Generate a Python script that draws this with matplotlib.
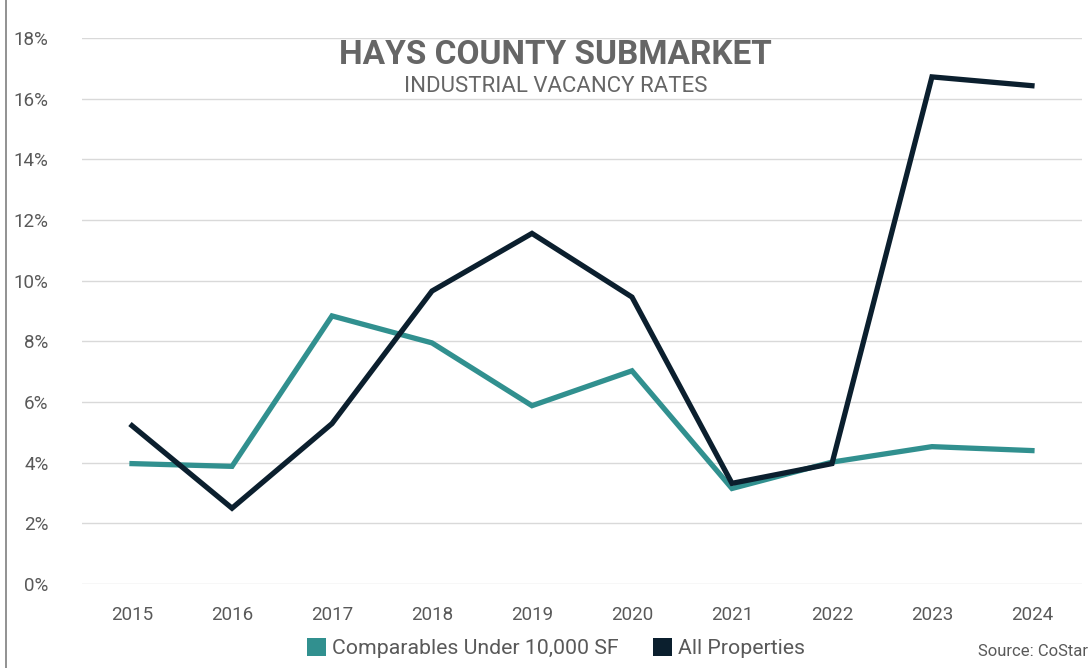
import matplotlib.pyplot as plt
from matplotlib.ticker import FuncFormatter
from matplotlib.lines import Line2D
from matplotlib.patches import Patch

# === DATA ===
years = [2015, 2016, 2017, 2018, 2019, 2020, 2021, 2022, 2023, 2024]
comparables = [3.97, 3.88, 8.84, 7.95, 5.88, 7.03, 3.15, 4.02, 4.53, 4.40]
all_props = [5.22, 2.50, 5.29, 9.66, 11.56, 9.46, 3.32, 3.97, 16.72, 16.43]

TEAL = "#31908f"
NAVY = "#0b1f2e"
GRAY = "#595959"
COND = ["Liberation Sans Narrow", "Roboto", "DejaVu Sans"]

fig = plt.figure(figsize=(10.92, 6.68), dpi=100)
ax = fig.add_axes([0.0751, 0.1257, 0.9157, 0.8173])

x = list(range(len(years)))
ax.plot(x, [v / 100 for v in comparables], color=TEAL, lw=3.8, solid_joinstyle="miter")
ax.plot(x, [v / 100 for v in all_props], color=NAVY, lw=3.8, solid_joinstyle="miter")

ax.set_xlim(-0.5, len(years) - 0.5)
ax.set_ylim(0, 0.18)
ax.set_yticks([i / 100 for i in range(0, 19, 2)])
ax.yaxis.set_major_formatter(FuncFormatter(lambda v, p: f"{v*100:.0f}%"))
ax.set_xticks(x)
ax.set_xticklabels([str(y) for y in years])
ax.grid(axis="y", color="#d9d9d9", lw=1)
ax.set_axisbelow(True)
for s in ax.spines.values():
    s.set_visible(False)
ax.tick_params(length=0, labelsize=13.5, colors=GRAY)
ax.tick_params(axis="x", pad=16)
ax.tick_params(axis="y", pad=24)
for lab in ax.get_xticklabels() + ax.get_yticklabels():
    lab.set_family(COND)

# title block
fig.text(0.509, 0.917, "HAYS COUNTY SUBMARKET", ha="center", va="center",
         fontsize=24, fontweight="bold", color="#666666", family="Roboto")
fig.text(0.509, 0.870, "INDUSTRIAL VACANCY RATES", ha="center", va="center",
         fontsize=16, color="#666666", family="Roboto")

# legend
handles = [Patch(facecolor=TEAL), Patch(facecolor=NAVY)]
fig.legend(handles, ["Comparables Under 10,000 SF", "All Properties"],
           loc="center", bbox_to_anchor=(0.509, 0.03), ncol=2, frameon=False,
           handlelength=0.9, handleheight=0.9, handletextpad=0.3, columnspacing=1.6,
           prop={"family": COND, "size": 15.3}, labelcolor=GRAY)

fig.text(0.996, 0.024, "Source: CoStar", ha="right", va="center",
         fontsize=12, color=GRAY, family=COND)

# left border line
fig.add_artist(Line2D([0.0055, 0.0055], [0, 1], color="#7f7f7f", lw=1.2,
                      transform=fig.transFigure))

fig.savefig("out.png", dpi=100)
